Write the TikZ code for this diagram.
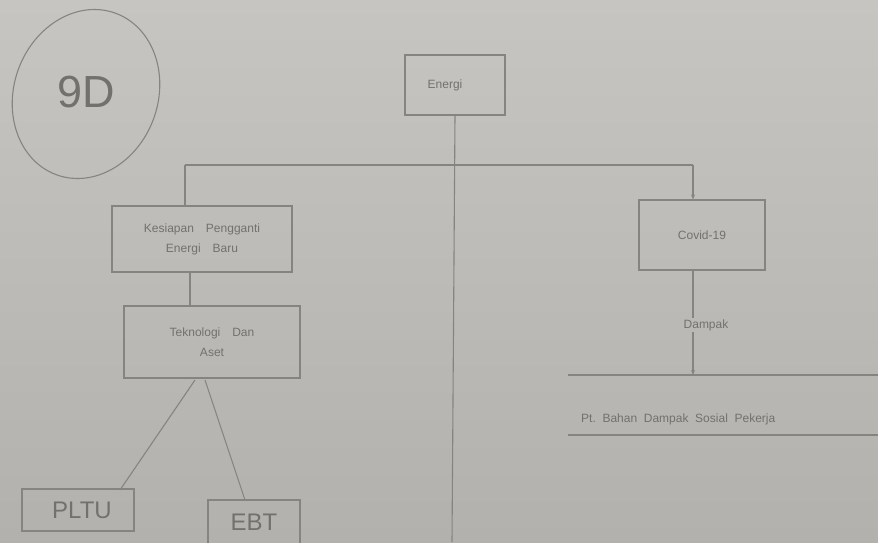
\documentclass[tikz,border=0pt]{standalone}
\usepackage{fontspec}
\setmainfont{Liberation Sans}
\usetikzlibrary{arrows.meta}
\definecolor{paper}{HTML}{B2B1AE}
\definecolor{paperlight}{HTML}{C6C5C2}
\definecolor{pencil}{HTML}{858481}
\definecolor{ink}{HTML}{72716E}
\begin{document}
\begin{tikzpicture}[x=1pt,y=-1pt,
  pen/.style={draw=pencil,line width=1.1pt},
  sbox/.style={pen,rectangle,minimum width=#1,inner sep=3pt,align=center,text=ink,font=\fontsize{12}{20}\selectfont},
  lbl/.style={text=ink,font=\fontsize{12}{14}\selectfont,inner sep=1pt},
  arr/.style={pen,-{Stealth[length=5pt,width=4pt]}}]
\shade[top color=paperlight,bottom color=paper] (0,0) rectangle (878,542);
\useasboundingbox (0,0) rectangle (878,542);
% circle with 9D
\draw[pen,rotate around={-20:(86,94)}] (86,94) ellipse [x radius=72,y radius=86];
\node[text=ink,font=\fontsize{50}{50}\selectfont,scale=0.9] (num) at (86,92) {9D};
% top box
\node[sbox=100pt,minimum height=60pt] (energi) at (455,85) {Energi\hspace{20pt}};
\coordinate (bot) at (452,542);
\draw[pen] (energi.south) -- (bot);
% horizontal branch
\coordinate (hl) at (185,165);
\coordinate (hr) at (693,165);
\draw[pen] (hl) -- (hr);
% left branch
\node[sbox=180pt,minimum height=66pt] (kes) at (202,239) {Kesiapan\quad Pengganti\\Energi\quad Baru\hspace{30pt}};
\draw[pen] (hl) -- (hl |- kes.north);
\node[sbox=176pt,minimum height=72pt] (tek) at (212,342) {Teknologi\quad Dan\\Aset};
\draw[pen] (190,272) -- (190,306);
\node[sbox=112pt,minimum height=42pt,font=\fontsize{24}{26}\selectfont] (pltu) at (78,510) {\hspace{8pt}PLTU};
\node[sbox=92pt,minimum height=44pt,font=\fontsize{24}{26}\selectfont] (ebt) at (254,522) {EBT};
\draw[pen] (195,380) -- (120,490);
\draw[pen] (205,380) -- (245,500);
% right branch
\node[sbox=126pt,minimum height=70pt] (covid) at (702,235) {Covid-19};
\draw[arr] (hr) -- (covid.north -| hr);
\node[lbl] (dampak) at (706,325) {Dampak};
\draw[pen] (covid.south -| hr) -- (dampak.north -| hr);
\coordinate (l1a) at (568,375);
\coordinate (l1b) at (878,375);
\draw[arr] (dampak.south -| hr) -- (hr |- l1a);
\draw[pen] (l1a) -- (l1b);
\node[lbl,anchor=west] (pt) at (580,419) {Pt.\ \ Bahan\ \ Dampak\ \ Sosial\ \ Pekerja};
\coordinate (l2a) at (568,435);
\coordinate (l2b) at (878,435);
\draw[pen] (l2a) -- (l2b);
\end{tikzpicture}
\end{document}
